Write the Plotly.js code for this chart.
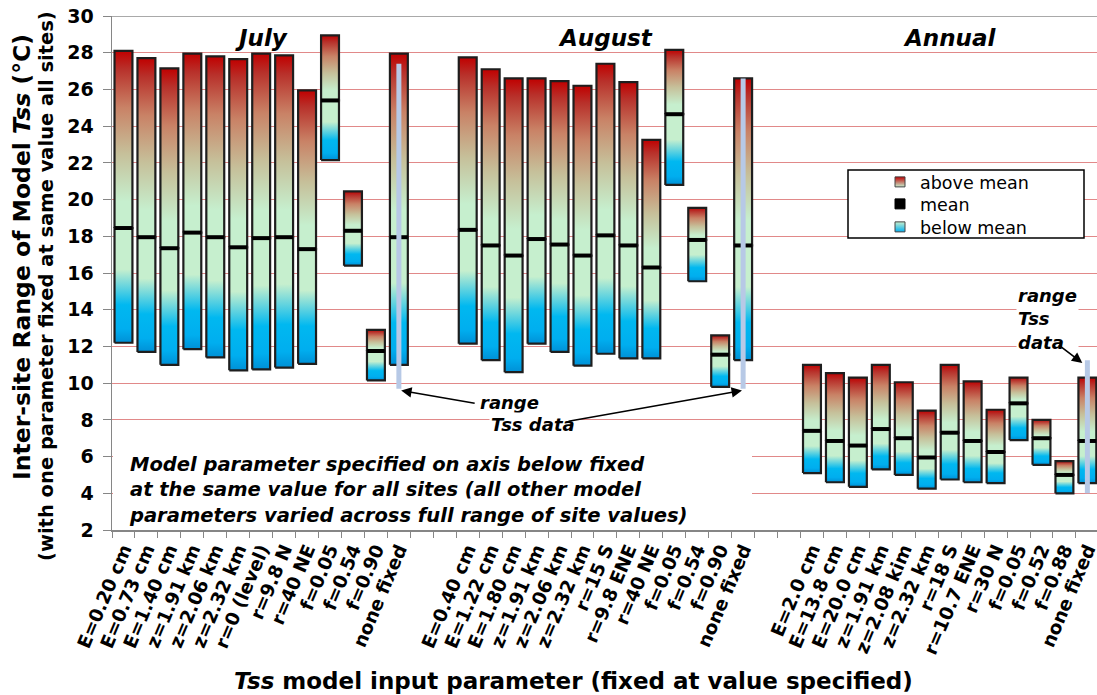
<!DOCTYPE html>
<html><head><meta charset="utf-8">
<script src="https://cdn.plot.ly/plotly-3.0.1.min.js"></script>
<style>html,body{margin:0;padding:0;background:#fff;}#chart{width:1097px;height:695px;}</style>
</head><body><div id="chart"></div>
<script>
// ---- data ----
const groupNames = ['July', 'August', 'Annual'];

const julyLabels = ['E=0.20 cm','E=0.73 cm','E=1.40 cm','z=1.91 km','z=2.06 km','z=2.32 km','r=0 (level)','r=9.8 N','r=40 NE','f=0.05','f=0.54','f=0.90','none fixed'];
const julyLow  = [12.2, 11.7, 11.0, 11.85, 11.4, 10.7, 10.75, 10.85, 11.05, 22.15, 16.4, 10.15, 11.0];
const julyMean = [18.45, 17.95, 17.35, 18.2, 17.95, 17.4, 17.9, 17.95, 17.3, 25.4, 18.3, 11.75, 17.95];
const julyHigh = [28.1, 27.7, 27.15, 27.95, 27.8, 27.65, 27.95, 27.85, 25.95, 28.95, 20.45, 12.9, 27.95];

const augustLabels = ['E=0.40 cm','E=1.22 cm','E=1.80 cm','z=1.91 km','z=2.06 km','z=2.32 km','r=15 S','r=9.8 ENE','r=40 NE','f=0.05','f=0.54','f=0.90','none fixed'];
const augustLow  = [12.15, 11.25, 10.6, 12.15, 11.7, 10.95, 11.6, 11.35, 11.35, 20.8, 15.55, 9.8, 11.25];
const augustMean = [18.35, 17.5, 16.95, 17.85, 17.55, 16.95, 18.05, 17.5, 16.3, 24.65, 17.8, 11.55, 17.5];
const augustHigh = [27.75, 27.1, 26.6, 26.6, 26.45, 26.2, 27.4, 26.4, 23.25, 28.15, 19.55, 12.6, 26.6];

const annualLabels = ['E=2.0 cm','E=13.8 cm','E=20.0 cm','z=1.91 km','z=2.08 kim','z=2.32 km','r=18 S','r=10.7 ENE','r=30 N','f=0.05','f=0.52','f=0.88','none fixed'];
const annualLow  = [5.1, 4.6, 4.35, 5.3, 5.0, 4.25, 4.75, 4.6, 4.55, 6.9, 5.55, 4.0, 4.55];
const annualMean = [7.4, 6.85, 6.6, 7.5, 7.0, 5.95, 7.3, 6.85, 6.25, 8.9, 7.0, 5.0, 6.85];
const annualHigh = [11.0, 10.55, 10.3, 11.0, 10.05, 8.5, 11.0, 10.1, 8.55, 10.3, 8.0, 5.75, 10.3];

// observed range of Tss data (drawn on the "none fixed" bar of each group)
const rangeTssLow  = [9.7, 9.7, 4.0];
const rangeTssHigh = [27.4, 26.6, 11.25];

const yTickVals = [2,4,6,8,10,12,14,16,18,20,22,24,26,28,30];
const legendNames = ['above mean', 'mean', 'below mean'];

// ---- build ----
const groups = [
  {labels: julyLabels, low: julyLow, mean: julyMean, high: julyHigh},
  {labels: augustLabels, low: augustLow, mean: augustMean, high: augustHigh},
  {labels: annualLabels, low: annualLow, mean: annualMean, high: annualHigh}
];
const GAP = 2;
const HW = 0.39;
const belowScale = [[0,'#0090d6'],[0.12,'#00aeef'],[0.33,'#00b8f0'],[0.64,'#c6efce'],[1,'#c6efce']];
const aboveScale = [[0,'#c6efce'],[0.15,'#c6efce'],[0.42,'#c6c09a'],[0.68,'#c98266'],[0.9,'#b8302a'],[1,'#c00000']];

const traces = [];
const tickVals = [], tickText = [], boundaryVals = [];
const meanX = [], meanY = [];
let offset = 0;
const groupCenters = [], noneFixedX = [];
groups.forEach((g, gi) => {
  g.labels.forEach((lab, i) => {
    const x = offset + i;
    tickVals.push(x); tickText.push(lab);
    const x0 = x - HW, x1 = x + HW;
    traces.push({type:'scatter', mode:'lines', x:[x0,x1,x1,x0,x0], y:[g.low[i],g.low[i],g.mean[i],g.mean[i],g.low[i]],
      fill:'toself', fillgradient:{type:'vertical', colorscale: belowScale},
      line:{color:'#1e1e1e', width:2.2}, showlegend:false, hoverinfo:'skip'});
    traces.push({type:'scatter', mode:'lines', x:[x0,x1,x1,x0,x0], y:[g.mean[i],g.mean[i],g.high[i],g.high[i],g.mean[i]],
      fill:'toself', fillgradient:{type:'vertical', colorscale: aboveScale},
      line:{color:'#1e1e1e', width:2.2}, showlegend:false, hoverinfo:'skip'});
    meanX.push(x0, x1, null); meanY.push(g.mean[i], g.mean[i], null);
  });
  groupCenters.push(offset + (g.labels.length - 1) / 2);
  noneFixedX.push(offset + g.labels.length - 1);
  offset += g.labels.length + GAP;
});
const nCat = offset - GAP;
for (let b = -0.5; b <= nCat + GAP; b += 1) boundaryVals.push(b);

traces.push({type:'scatter', mode:'lines', x: meanX, y: meanY, line:{color:'#000', width:4}, showlegend:false, hoverinfo:'skip'});

noneFixedX.forEach((x, k) => {
  traces.push({type:'scatter', mode:'lines', x:[x, x], y:[rangeTssLow[k], rangeTssHigh[k]],
    line:{color:'#b7c9e6', width:5}, showlegend:false, hoverinfo:'skip'});
});

// legend entries (one small legend each so spacing matches)
const legendMarkers = [
  {symbol:'square', size:10, color:'#c00000', gradient:{type:'vertical', color:'#c6efce'}, line:{color:'#444', width:1}},
  {symbol:'square', size:10, color:'#000', line:{color:'#000', width:1}},
  {symbol:'square', size:10, color:'#c6efce', gradient:{type:'vertical', color:'#00aeef'}, line:{color:'#444', width:1}}
];
legendNames.forEach((n, k) => {
  traces.push({type:'scatter', mode:'markers', x:[null], y:[null], name:n, legend: k === 0 ? 'legend' : 'legend' + (k + 1),
    marker: legendMarkers[k]});
});

const FONT = 'DejaVu Sans, Verdana, sans-serif';
const L = 112, T = 16, PW = 985, PH = 514, STEP = 22.95;
const px = v => (v - L) / PW;          // pixel x -> paper
const py = v => (T + PH - v) / PH;     // pixel y -> paper

const annotations = [];
groupNames.forEach((name, k) => {
  annotations.push({text: name, x: groupCenters[k], xref:'x', xanchor:'center', y: py(38), yref:'paper', yanchor:'middle', showarrow:false,
    font:{size:23, weight:700, style:'italic', color:'#000'}});
});
annotations.push({text:'Model parameter specified on axis below fixed<br>at the same value for all sites (all other model<br>parameters varied across full range of site values)',
  x: px(127), xref:'paper', xanchor:'left', y: py(490), yref:'paper', yanchor:'middle', align:'left', showarrow:false,
  font:{size:19.5, weight:700, style:'italic', color:'#000'}});
annotations.push({text:'range', x: px(509), xref:'paper', xanchor:'center', y: py(402), yref:'paper', yanchor:'middle', showarrow:false, bgcolor:'#fff',
  font:{size:18, weight:700, style:'italic', color:'#000'}});
annotations.push({text:'<i>Tss</i> data', x: px(533), xref:'paper', xanchor:'center', y: py(424), yref:'paper', yanchor:'middle', showarrow:false, bgcolor:'#fff',
  font:{size:18, weight:700, style:'italic', color:'#000'}});
annotations.push({text:'range<br>Tss<br>data', x: px(1016), xref:'paper', xanchor:'left', y: py(319), yref:'paper', yanchor:'middle', align:'left', showarrow:false, bgcolor:'#fff',
  font:{size:18, weight:700, style:'italic', color:'#000'}});
// arrows
annotations.push({text:'', x: noneFixedX[0] + 0.1, xref:'x', y: 9.6, yref:'y', ax: 75, ay: 13, showarrow:true, arrowhead:2, arrowsize:1.3, arrowwidth:1.6, arrowcolor:'#000'});
annotations.push({text:'', x: noneFixedX[1] - 0.05, xref:'x', y: 9.6, yref:'y', ax: -175, ay: 31, showarrow:true, arrowhead:2, arrowsize:1.3, arrowwidth:1.6, arrowcolor:'#000'});
annotations.push({text:'', x: noneFixedX[2] - 0.22, xref:'x', y: 11.1, yref:'y', ax: -25, ay: -19, showarrow:true, arrowhead:2, arrowsize:1.3, arrowwidth:1.6, arrowcolor:'#000'});
// axis titles
annotations.push({text:'Inter-site Range of Model <i>Tss</i> (°C)', x: px(22), xref:'paper', xanchor:'center', y: py(257), yref:'paper', yanchor:'middle', textangle:-90, showarrow:false,
  font:{size:23.5, weight:700, color:'#000'}});
annotations.push({text:'(with one parameter fixed at same value all sites)', x: px(46), xref:'paper', xanchor:'center', y: py(286), yref:'paper', yanchor:'middle', textangle:-90, showarrow:false,
  font:{size:19.5, weight:700, color:'#000'}});
annotations.push({text:'<i>Tss</i> model input parameter (fixed at value specified)', x: px(573), xref:'paper', xanchor:'center', y: py(681), yref:'paper', yanchor:'middle', showarrow:false,
  font:{size:23, weight:700, color:'#000'}});

const shapes = [
  {type:'line', xref:'paper', yref:'y', x0:0, x1:1, y0:30, y1:30, line:{color:'#8c8c8c', width:1.5}},
  {type:'rect', xref:'paper', yref:'paper', x0:px(113), x1:px(752), y0:py(529), y1:py(443), fillcolor:'#fff', line:{width:0}, layer:'above'},
  {type:'rect', xref:'paper', yref:'paper', x0:px(848), x1:px(1084), y0:py(238), y1:py(170), fillcolor:'#fff', line:{color:'#000', width:1.5}, layer:'above'}
];

const legendBase = {x: px(880), xanchor:'left', yanchor:'middle', bgcolor:'rgba(0,0,0,0)', borderwidth:0,
  font:{size:17.5, family: FONT, color:'#000'}};

const layout = {
  width:1097, height:695,
  margin:{l:L, r:0, t:T, b:695 - T - PH},
  paper_bgcolor:'#fff', plot_bgcolor:'#fff',
  font:{family: FONT, color:'#000'},
  showlegend:true,
  legend:  Object.assign({}, legendBase, {y: py(182)}),
  legend2: Object.assign({}, legendBase, {y: py(204)}),
  legend3: Object.assign({}, legendBase, {y: py(227)}),
  xaxis:{range:[-0.5, -0.5 + PW / STEP], tickmode:'array', tickvals: tickVals, ticktext: tickText, tickangle:-67,
    ticks:'', showgrid:false, zeroline:false, showline:true, linecolor:'#868686', linewidth:1.5, ticklabeloverflow:'allow',
    tickfont:{size:18.5, weight:700, family: FONT, color:'#000'},
    minor:{tickmode:'array', tickvals: boundaryVals, ticks:'outside', ticklen:6, tickcolor:'#868686', tickwidth:1, showgrid:false}},
  yaxis:{range:[2,30], tickmode:'array', tickvals: yTickVals, ticks:'outside', ticklen:8, tickcolor:'#868686', tickwidth:1,
    showline:true, linecolor:'#868686', linewidth:1.5, gridcolor:'rgba(200,40,40,0.55)', gridwidth:1, zeroline:false,
    ticklabelstandoff: 5, tickfont:{size:19, weight:700, family: FONT, color:'#000'}},
  annotations: annotations,
  shapes: shapes
};

Plotly.newPlot('chart', traces, layout, {staticPlot:true, displayModeBar:false});
</script>
</body></html>
